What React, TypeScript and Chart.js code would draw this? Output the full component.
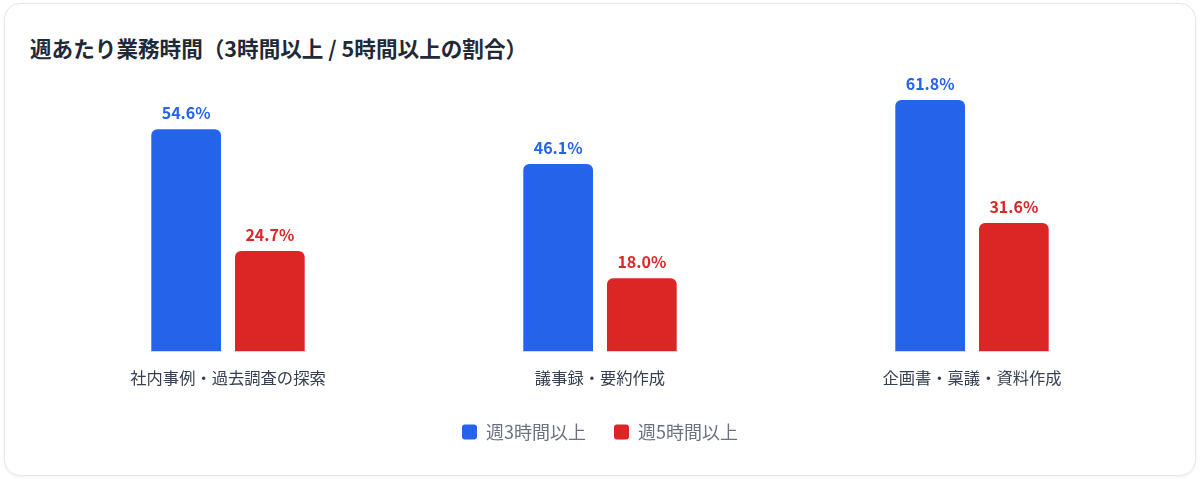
import { useEffect, useRef } from 'react';
import { Chart, registerables } from 'chart.js';

Chart.register(...registerables);

const FONT = '"Noto Sans CJK JP", "Noto Sans", sans-serif';

const categories = ['社内事例・過去調査の探索', '議事録・要約作成', '企画書・稟議・資料作成'];
const over3h = [54.6, 46.1, 61.8];
const over5h = [24.7, 18.0, 31.6];
const seriesNames = ['週3時間以上', '週5時間以上'];
const seriesColors = ['#2563eb', '#dc2626'];

const valueLabels = {
    id: 'valueLabels',
    afterDatasetsDraw(chart: Chart) {
        const ctx = chart.ctx;
        ctx.save();
        ctx.font = `700 16px ${FONT}`;
        ctx.textAlign = 'center';
        ctx.textBaseline = 'bottom';
        chart.data.datasets.forEach((ds, i) => {
            const meta = chart.getDatasetMeta(i);
            ctx.fillStyle = seriesColors[i];
            meta.data.forEach((bar: any, j: number) => {
                const v = ds.data[j] as number;
                ctx.fillText(v.toFixed(1) + '%', bar.x, bar.y - 8);
            });
        });
        ctx.restore();
    },
};

export default function App() {
    const canvasRef = useRef<HTMLCanvasElement | null>(null);
    const chartInstance = useRef<Chart | null>(null);

    useEffect(() => {
        if (!canvasRef.current) return;
        if (chartInstance.current) chartInstance.current.destroy();

        chartInstance.current = new Chart(canvasRef.current, {
            type: 'bar',
            data: {
                labels: categories,
                datasets: [
                    {
                        label: seriesNames[0],
                        data: over3h,
                        backgroundColor: seriesColors[0],
                        borderRadius: 6,
                        categoryPercentage: 0.45,
                        barPercentage: 0.833,
                    },
                    {
                        label: seriesNames[1],
                        data: over5h,
                        backgroundColor: seriesColors[1],
                        borderRadius: 6,
                        categoryPercentage: 0.45,
                        barPercentage: 0.833,
                    },
                ],
            },
            options: {
                responsive: true,
                maintainAspectRatio: false,
                animation: false,
                layout: { padding: { top: 17, left: 37, right: 37, bottom: 19 } },
                scales: {
                    x: {
                        grid: { display: false, drawTicks: false },
                        border: { display: false },
                        ticks: { color: '#374151', font: { family: FONT, size: 16.3 }, padding: 17 },
                        afterFit(scale: any) {
                            scale.height -= 10;
                        },
                    },
                    y: {
                        display: false,
                        min: 0,
                        max: 65,
                    },
                },
                plugins: {
                    tooltip: { enabled: false },
                    legend: {
                        position: 'bottom',
                        labels: {
                            color: '#6b7280',
                            font: { family: FONT, size: 18 },
                            boxWidth: 15,
                            boxHeight: 15,
                            useBorderRadius: true,
                            borderRadius: 3,
                            padding: 28,
                        },
                    },
                },
            },
            plugins: [valueLabels],
        });

        return () => {
            if (chartInstance.current) {
                chartInstance.current.destroy();
                chartInstance.current = null;
            }
        };
    }, []);

    return (
        <div
            style={{
                position: 'absolute',
                left: 4,
                top: 3,
                width: 1192,
                height: 473,
                boxSizing: 'border-box',
                border: '1px solid #e5e7eb',
                borderRadius: 16,
                background: '#fff',
                boxShadow: '0 1px 3px rgba(0,0,0,0.06)',
                fontFamily: FONT,
            }}
        >
            <div
                style={{
                    position: 'absolute',
                    left: 25,
                    top: 29,
                    fontSize: 21.6,
                    fontWeight: 700,
                    lineHeight: '30px',
                    color: '#1f2937',
                    whiteSpace: 'nowrap',
                }}
            >
                週あたり業務時間（3時間以上 / 5時間以上の割合）
            </div>
            <div style={{ position: 'absolute', left: 0, top: 66, width: 1190, height: 400 }}>
                <canvas ref={canvasRef}></canvas>
            </div>
        </div>
    );
}
